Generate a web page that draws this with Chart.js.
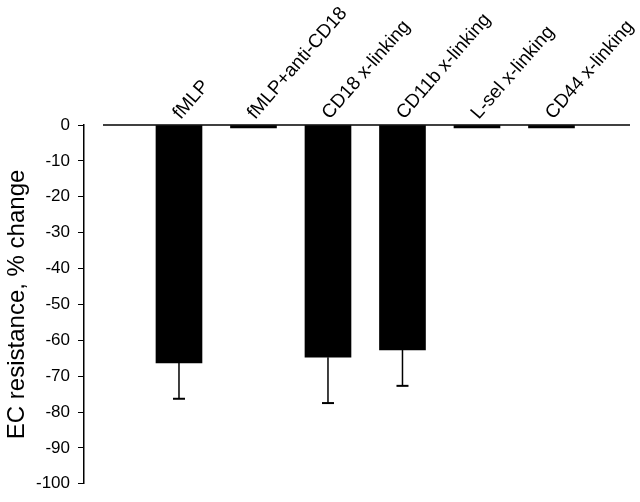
<!DOCTYPE html>
<html>
<head>
<meta charset="utf-8">
<script src="https://cdn.jsdelivr.net/npm/chart.js@4"></script>
<style>
  html, body { margin: 0; padding: 0; background: #fff; }
  #wrap { width: 640px; height: 502px; }
</style>
</head>
<body>
<div id="wrap"><canvas id="myChart" width="640" height="502"></canvas></div>
<script>
const categories = ['fMLP', 'fMLP+anti-CD18', 'CD18 x-linking', 'CD11b x-linking', 'L-sel x-linking', 'CD44 x-linking']
const changes = [-66.3, -0.8, -64.7, -62.7, -0.8, -0.8]
const errors = [10, 0, 12.8, 10, 0, 0]
const yTicks = [0, -10, -20, -30, -40, -50, -60, -70, -80, -90, -100]

const fontFamily = '"Liberation Sans", Arial, sans-serif'

// zero line + error bars, drawn through the scales
const extras = {
    id: 'extras',
    afterDatasetsDraw(chart) {
        const { ctx, chartArea, scales: { x, y } } = chart
        ctx.save()
        ctx.strokeStyle = '#000'
        ctx.lineWidth = 1.5
        const y0 = y.getPixelForValue(0)
        ctx.beginPath()
        ctx.moveTo(chartArea.left + 19, y0)
        ctx.lineTo(chartArea.right, y0)
        ctx.stroke()

        changes.forEach((v, i) => {
            if (!errors[i]) return
            const px = x.getPixelForValue(i)
            const py1 = y.getPixelForValue(v)
            const py2 = y.getPixelForValue(v - errors[i])
            ctx.lineWidth = 1.5
            ctx.beginPath()
            ctx.moveTo(px, py1)
            ctx.lineTo(px, py2)
            ctx.stroke()
            ctx.lineWidth = 2
            ctx.beginPath()
            ctx.moveTo(px - 6, py2)
            ctx.lineTo(px + 6, py2)
            ctx.stroke()
        })
        ctx.restore()
    }
}

new Chart('myChart', {
    type: 'bar',
    data: {
        datasets: [{
            data: changes.map((v, i) => ({ x: i, y: v })),
            backgroundColor: '#000',
            borderWidth: 0,
            barThickness: 46,
        }]
    },
    plugins: [extras],
    options: {
        responsive: false,
        maintainAspectRatio: false,
        animation: false,
        layout: { padding: { left: 0, right: 10, top: 0, bottom: 12 } },
        plugins: {
            legend: { display: false },
            tooltip: { enabled: false },
        },
        scales: {
            x: {
                type: 'linear',
                position: 'top',
                offset: false,
                min: -1.275,
                max: 6.054,
                grid: { display: false, drawTicks: false, offset: false },
                border: { display: false },
                afterBuildTicks: (scale) => {
                    scale.ticks = categories.map((c, i) => ({ value: i }))
                },
                afterFit: (scale) => {
                    scale.height = 125
                    scale.paddingLeft = 0
                    scale.paddingRight = 0
                },
                ticks: {
                    autoSkip: false,
                    minRotation: 49,
                    maxRotation: 49,
                    padding: 1,
                    labelOffset: 15,
                    color: '#000',
                    font: { family: fontFamily, size: 19 },
                    callback: (v) => categories[v],
                },
            },
            y: {
                min: -100,
                max: 0,
                afterBuildTicks: (scale) => {
                    scale.ticks = yTicks.map(v => ({ value: v }))
                },
                afterFit: (scale) => {
                    scale.width = 84
                },
                grid: {
                    drawOnChartArea: false,
                    drawTicks: true,
                    tickLength: 6,
                    color: '#000',
                },
                border: { display: true, color: '#000', width: 1.5 },
                ticks: {
                    padding: 8,
                    color: '#000',
                    font: { family: fontFamily, size: 17 },
                },
                title: {
                    display: true,
                    text: 'EC resistance, % change',
                    color: '#000',
                    padding: { top: 3, bottom: 0 },
                    font: { family: fontFamily, size: 24 },
                },
            }
        }
    }
});
</script>
</body>
</html>
